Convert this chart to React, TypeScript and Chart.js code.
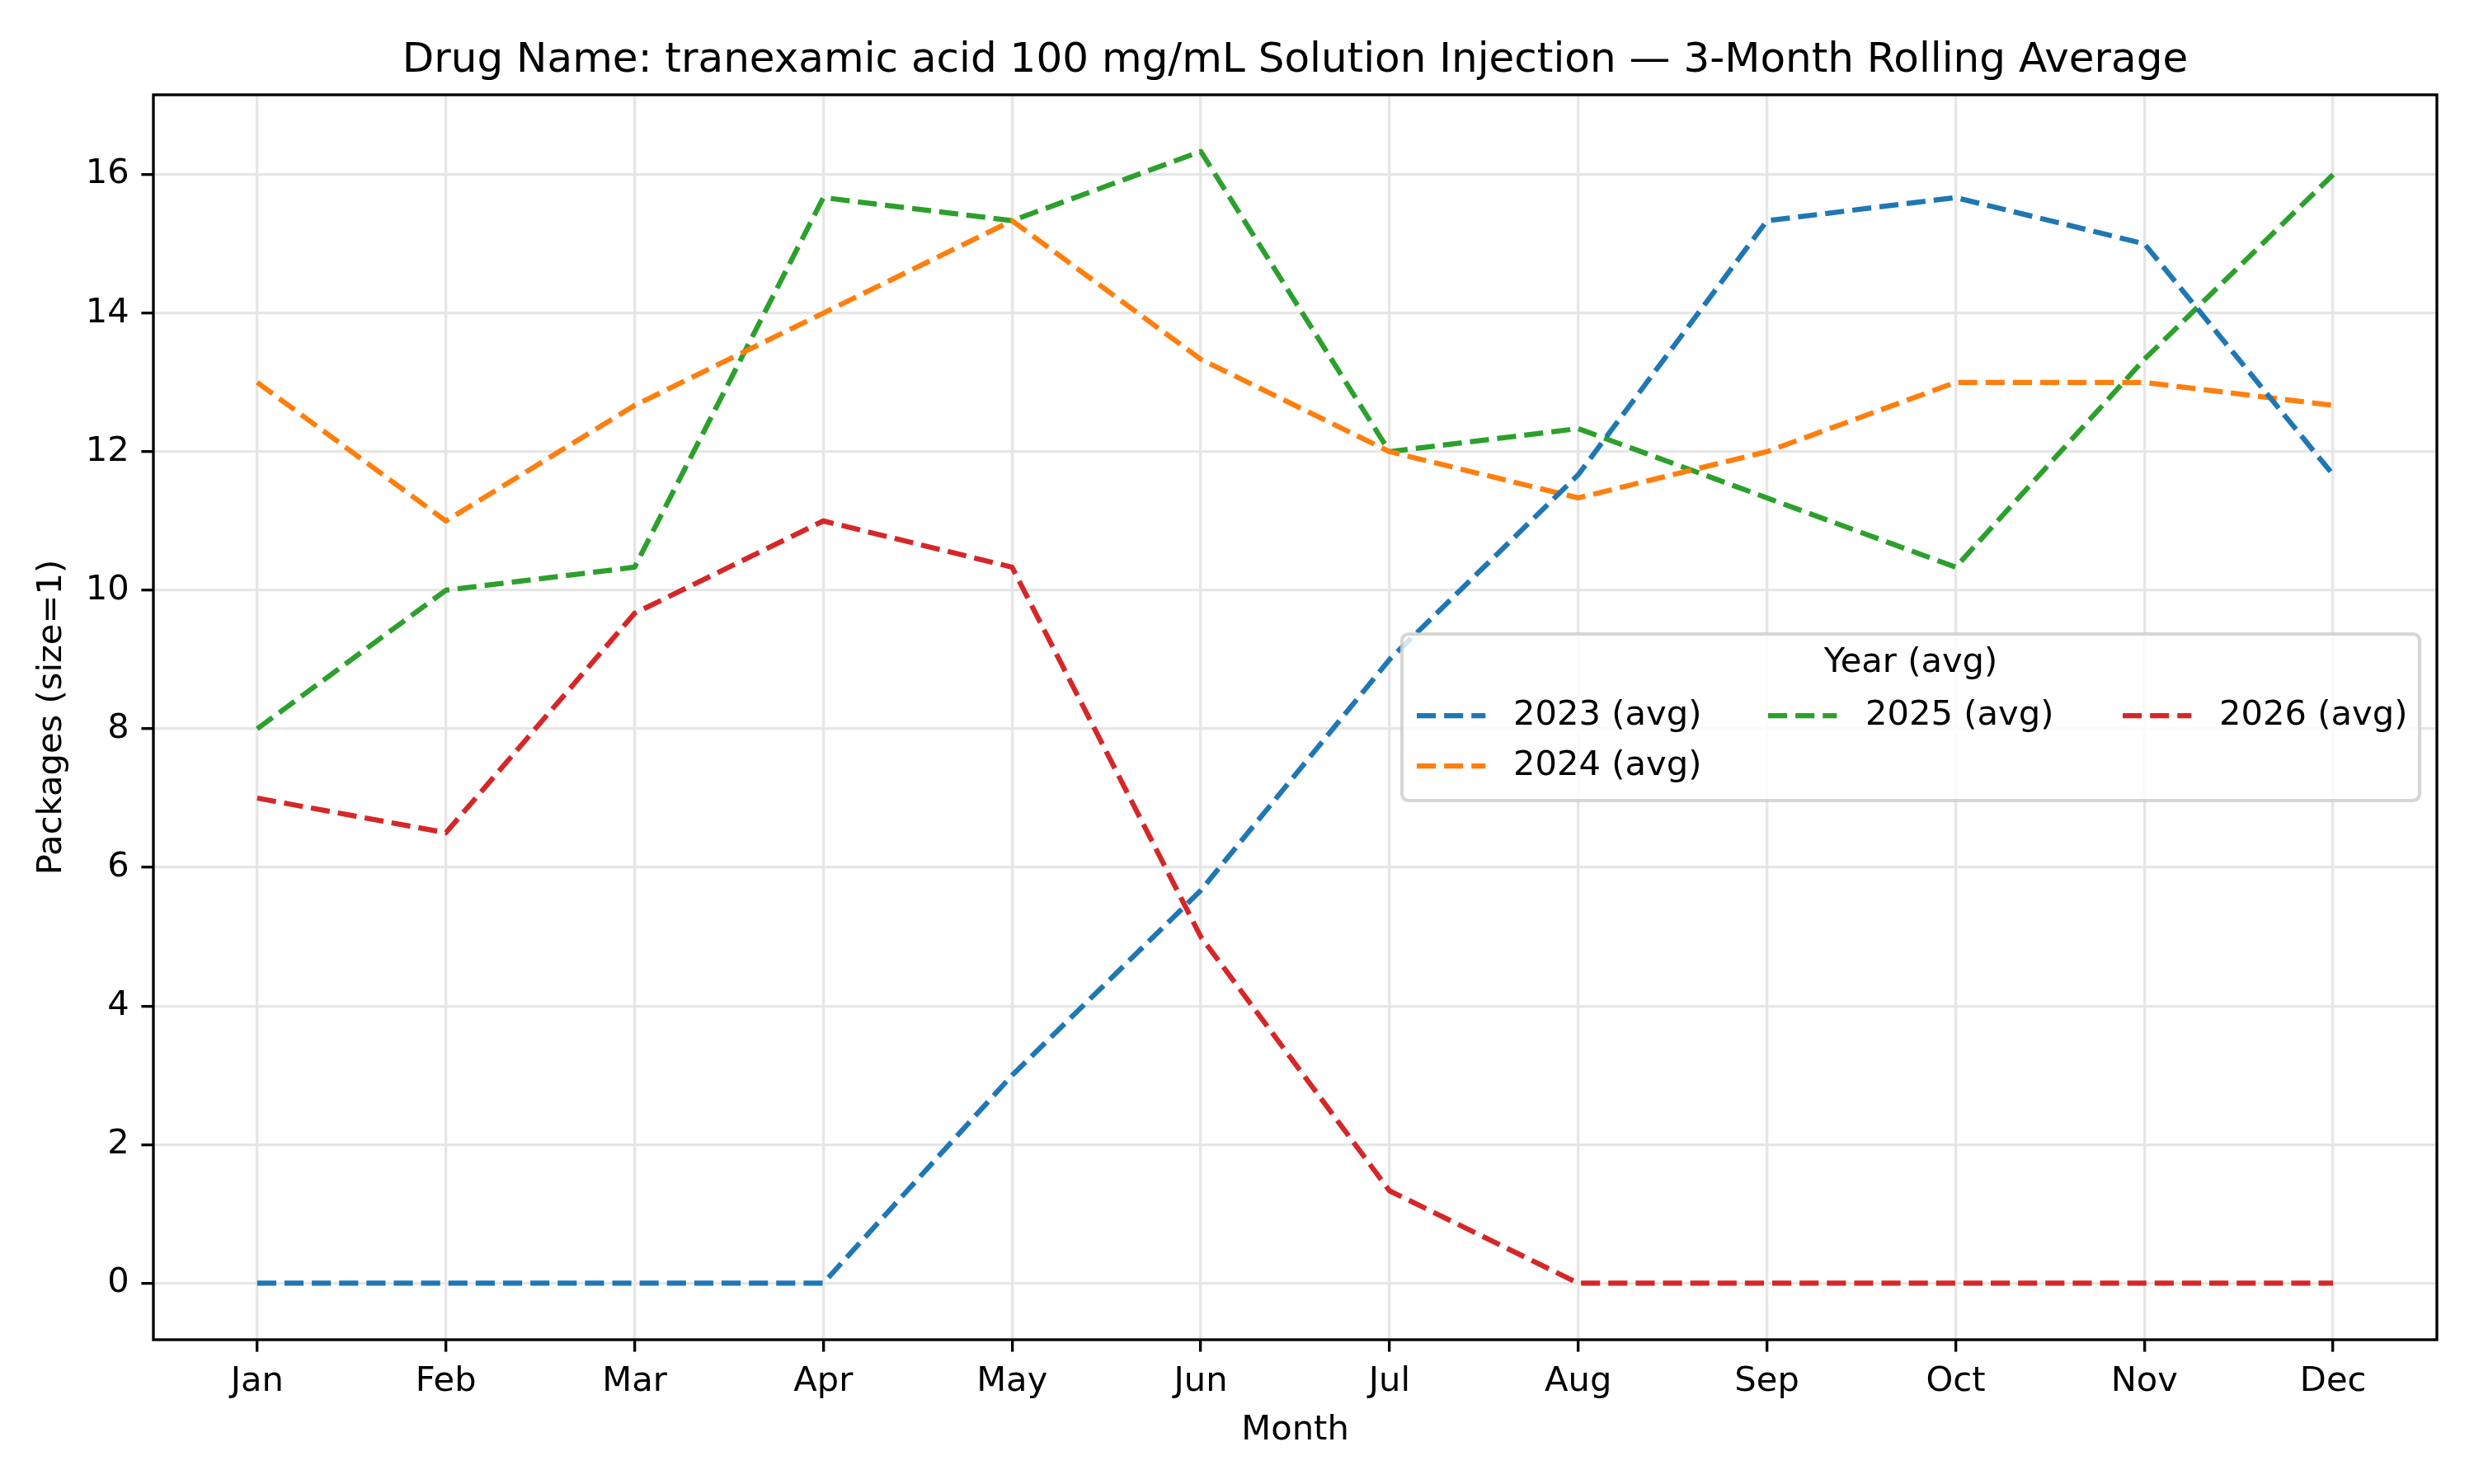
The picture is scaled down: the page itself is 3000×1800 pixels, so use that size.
import React, { useEffect, useRef } from "react";
import { Chart, registerables } from "chart.js";

Chart.register(...registerables);

const months = ["Jan", "Feb", "Mar", "Apr", "May", "Jun", "Jul", "Aug", "Sep", "Oct", "Nov", "Dec"];
const yTicks = [0, 2, 4, 6, 8, 10, 12, 14, 16];

const series2023 = [0, 0, 0, 0, 3, 5.667, 9, 11.667, 15.333, 15.667, 15, 11.667];
const series2024 = [13, 11, 12.667, 14, 15.333, 13.333, 12, 11.333, 12, 13, 13, 12.667];
const series2025 = [8, 10, 10.333, 15.667, 15.333, 16.333, 12, 12.333, 11.333, 10.333, 13.333, 16];
const series2026 = [7, 6.5, 9.667, 11, 10.333, 5, 1.333, 0, 0, 0, 0, 0];

const seriesLabels = ["2023 (avg)", "2024 (avg)", "2025 (avg)", "2026 (avg)"];
const seriesColors = ["#1f77b4", "#ff7f0e", "#2ca02c", "#d62728"];
const seriesValues = [series2023, series2024, series2025, series2026];

const FONT = "'DejaVu Sans', sans-serif";
const PT = 300 / 72;
const FS = 10 * PT;
const LW = 1.5 * PT;
const DASH = [3.7 * LW, 1.6 * LW];

const framePlugin = {
  id: "frame",
  afterDatasetsDraw(chart: any) {
    const { ctx, chartArea } = chart;
    ctx.save();
    ctx.strokeStyle = "#000";
    ctx.lineWidth = 0.8 * PT;
    ctx.setLineDash([]);
    ctx.strokeRect(chartArea.left, chartArea.top, chartArea.right - chartArea.left, chartArea.bottom - chartArea.top);
    ctx.restore();
  },
};

const legendPlugin = {
  id: "mplLegend",
  afterDraw(chart: any) {
    const { ctx, chartArea } = chart;
    const w = 1234;
    const h = 202;
    const x0 = chartArea.right - 21 - w;
    const y0 = (chartArea.top + chartArea.bottom) / 2 - h / 2;
    ctx.save();
    ctx.setLineDash([]);
    ctx.beginPath();
    (ctx as any).roundRect(x0, y0, w, h, 8);
    ctx.fillStyle = "rgba(255,255,255,0.8)";
    ctx.fill();
    ctx.lineWidth = 1 * PT;
    ctx.strokeStyle = "rgba(204,204,204,0.8)";
    ctx.stroke();

    ctx.font = `${FS}px ${FONT}`;
    ctx.fillStyle = "#000";
    ctx.textBaseline = "middle";
    ctx.textAlign = "center";
    ctx.fillText("Year (avg)", x0 + w / 2, y0 + 35);

    const ncol = 3;
    const n = chart.data.datasets.length;
    const nrows = Math.floor(n / ncol);
    const numLarge = n % ncol;
    const handleOff = [18, 444, 874];
    const textOff = [135, 562, 991];
    const rowOff = [99, 160];
    let idx = 0;
    for (let c = 0; c < ncol; c++) {
      const count = c < numLarge ? nrows + 1 : nrows;
      for (let r = 0; r < count; r++) {
        const ds = chart.data.datasets[idx++];
        if (!ds) continue;
        const cy = y0 + rowOff[r];
        ctx.beginPath();
        ctx.strokeStyle = ds.borderColor;
        ctx.lineWidth = LW;
        ctx.lineCap = "butt";
        ctx.setLineDash(DASH);
        ctx.moveTo(x0 + handleOff[c], cy);
        ctx.lineTo(x0 + handleOff[c] + 2 * FS, cy);
        ctx.stroke();
        ctx.setLineDash([]);
        ctx.textAlign = "left";
        ctx.fillStyle = "#000";
        ctx.fillText(ds.label, x0 + textOff[c], cy);
      }
    }
    ctx.restore();
  },
};

export default function App() {
  const ref = useRef<HTMLCanvasElement | null>(null);

  useEffect(() => {
    document.body.style.margin = "0";
    if (!ref.current) return;
    const datasets = seriesValues.map((vals, i) => ({
      label: seriesLabels[i],
      data: vals.map((v, j) => ({ x: j, y: v })),
      borderColor: seriesColors[i],
      backgroundColor: seriesColors[i],
      borderWidth: LW,
      borderDash: DASH,
      borderCapStyle: "butt" as const,
      borderJoinStyle: "round" as const,
      pointRadius: 0,
      tension: 0,
      fill: false,
    }));

    const gridColor = "#e6e6e6";
    const chart = new Chart(ref.current, {
      type: "line",
      data: { datasets },
      plugins: [framePlugin, legendPlugin],
      options: {
        animation: false,
        responsive: false,
        devicePixelRatio: 1,
        layout: { padding: { left: 0, right: 45, top: 0, bottom: 0 } },
        plugins: {
          legend: { display: false },
          tooltip: { enabled: false },
          title: {
            display: true,
            fullSize: false,
            text: "Drug Name: tranexamic acid 100 mg/mL Solution Injection \u2014 3-Month Rolling Average",
            color: "#000",
            font: { family: FONT, size: 12 * PT, weight: "normal" as any, lineHeight: 1.2 },
            padding: { top: 44, bottom: 11 },
          },
        },
        scales: {
          x: {
            type: "linear",
            min: -0.55,
            max: 11.55,
            afterBuildTicks: (scale: any) => {
              scale.ticks = months.map((_, i) => ({ value: i }));
            },
            afterFit: (scale: any) => {
              scale.height = 175;
            },
            ticks: {
              autoSkip: false,
              maxRotation: 0,
              minRotation: 0,
              padding: 12,
              color: "#000",
              font: { family: FONT, size: FS },
              callback: (v: any) => months[Math.round(Number(v))] ?? "",
            },
            grid: {
              color: gridColor,
              lineWidth: 0.8 * PT,
              tickColor: "#000",
              tickLength: 3.5 * PT,
              tickWidth: 0.8 * PT,
            } as any,
            border: { display: false },
            title: {
              display: true,
              text: "Month",
              color: "#000",
              font: { family: FONT, size: FS, lineHeight: 1.2 },
              padding: { top: 0, bottom: 40 },
            },
          },
          y: {
            type: "linear",
            min: -0.8167,
            max: 17.15,
            afterBuildTicks: (scale: any) => {
              scale.ticks = yTicks.map((v) => ({ value: v }));
            },
            afterFit: (scale: any) => {
              scale.width = 186;
            },
            ticks: {
              padding: 3.5 * PT,
              color: "#000",
              font: { family: FONT, size: FS },
              callback: (v: any) => String(v),
            },
            grid: {
              color: gridColor,
              lineWidth: 0.8 * PT,
              tickColor: "#000",
              tickLength: 3.5 * PT,
              tickWidth: 0.8 * PT,
            } as any,
            border: { display: false },
            title: {
              display: true,
              text: "Packages (size=1)",
              color: "#000",
              font: { family: FONT, size: FS, lineHeight: 1.2 },
              padding: { top: 38, bottom: 0 },
            },
          },
        },
      },
    });
    return () => chart.destroy();
  }, []);

  return (
    <div style={{ position: "absolute", left: 0, top: 0, width: 3000, height: 1800, background: "#fff" }}>
      <canvas ref={ref} width={3000} height={1800} style={{ display: "block", width: 3000, height: 1800 }} />
    </div>
  );
}
